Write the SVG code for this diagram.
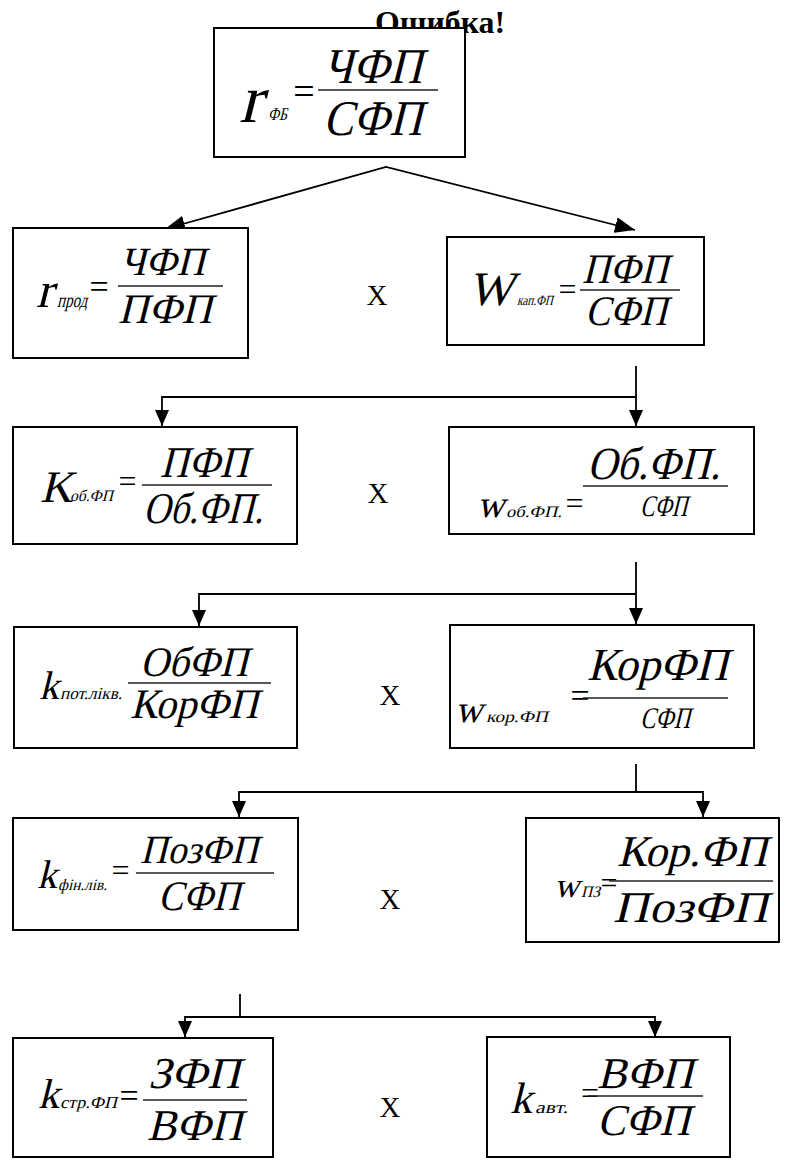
<svg xmlns="http://www.w3.org/2000/svg" width="791" height="1160" viewBox="0 0 791 1160">
<style>
.b{fill:#fff;stroke:#000;stroke-width:2}
.t{font-family:'Liberation Serif','Times New Roman',serif;fill:#000}
.e{font-family:'Liberation Serif','Times New Roman',serif;fill:#000}
.fl{stroke:#222;stroke-width:1.3}
.c{fill:none;stroke:#000;stroke-width:1.8}
</style>
<defs>
<marker id="ah" markerWidth="16" markerHeight="14" refX="16" refY="7" orient="auto" markerUnits="userSpaceOnUse"><path d="M0,0 L16,7 L0,14 z" fill="#000"/></marker>
<marker id="ad" markerWidth="20" markerHeight="16" refX="20" refY="8" orient="auto-start-reverse" markerUnits="userSpaceOnUse"><path d="M0,0 L20,8 L0,16 z" fill="#000"/></marker>
</defs>
<text class="e" x="375" y="33" font-size="32" font-weight="bold" textLength="130" lengthAdjust="spacingAndGlyphs">Ошибка!</text>

<g id="connectors">
<polyline class="c" points="165,229 386,167 635,230" marker-start="url(#ad)" marker-end="url(#ad)"/>
<line class="c" x1="636" y1="366" x2="636" y2="426" marker-end="url(#ah)"/>
<polyline class="c" points="636,397 162,397 162,426" marker-end="url(#ah)"/>
<line class="c" x1="636" y1="562" x2="636" y2="624" marker-end="url(#ah)"/>
<polyline class="c" points="636,594 199,594 199,626" marker-end="url(#ah)"/>
<line class="c" x1="636" y1="764" x2="636" y2="792"/>
<polyline class="c" points="636,792 239,792 239,817" marker-end="url(#ah)"/>
<polyline class="c" points="636,792 703,792 703,817" marker-end="url(#ah)"/>
<line class="c" x1="240" y1="994" x2="240" y2="1017"/>
<polyline class="c" points="240,1017 185,1017 185,1037" marker-end="url(#ah)"/>
<polyline class="c" points="240,1017 655,1017 655,1037" marker-end="url(#ah)"/>
</g>

<g id="n0">
<rect class="b" x="214" y="28" width="251" height="129"/>
<text class="t" transform="translate(239,122) skewX(-14)" font-size="68">r</text>
<text class="t" transform="translate(268,120) skewX(-14)" font-size="18" textLength="19" lengthAdjust="spacingAndGlyphs">ФБ</text>
<text class="e" x="304" y="104" font-size="38" text-anchor="middle">=</text>
<text class="t" transform="translate(323,83) skewX(-14)" font-size="50" textLength="99" lengthAdjust="spacingAndGlyphs">ЧФП</text>
<line class="fl" x1="318" y1="90" x2="438" y2="90"/>
<text class="t" transform="translate(323,135) skewX(-14)" font-size="50" textLength="99" lengthAdjust="spacingAndGlyphs">СФП</text>
</g>

<g id="n1">
<rect class="b" x="13" y="228" width="235" height="130"/>
<text class="t" transform="translate(36,307) skewX(-14)" font-size="50">r</text>
<text class="t" transform="translate(57,307) skewX(-14)" font-size="20" textLength="30" lengthAdjust="spacingAndGlyphs">прод</text>
<text class="e" x="99" y="297.5" font-size="34" text-anchor="middle">=</text>
<text class="t" transform="translate(120,275) skewX(-14)" font-size="40" textLength="85" lengthAdjust="spacingAndGlyphs">ЧФП</text>
<line class="fl" x1="118" y1="286" x2="223" y2="286"/>
<text class="t" transform="translate(118,323) skewX(-14)" font-size="42" textLength="94" lengthAdjust="spacingAndGlyphs">ПФП</text>
</g>

<g id="n2">
<rect class="b" x="447" y="237" width="257" height="108"/>
<text class="t" transform="translate(468,305) skewX(-14)" font-size="48">W</text>
<text class="t" transform="translate(517,305) skewX(-14)" font-size="14" textLength="36" lengthAdjust="spacingAndGlyphs">кап.ФП</text>
<text class="e" x="567.5" y="300" font-size="32" text-anchor="middle">=</text>
<text class="t" transform="translate(582,283) skewX(-14)" font-size="42" textLength="86" lengthAdjust="spacingAndGlyphs">ПФП</text>
<line class="fl" x1="580" y1="290" x2="680" y2="290"/>
<text class="t" transform="translate(585,325) skewX(-14)" font-size="42" textLength="82" lengthAdjust="spacingAndGlyphs">СФП</text>
</g>

<g id="n3">
<rect class="b" x="13" y="427" width="284" height="117"/>
<text class="t" transform="translate(40,502) skewX(-14)" font-size="45">K</text>
<text class="t" transform="translate(70,501) skewX(-14)" font-size="16" textLength="43" lengthAdjust="spacingAndGlyphs">об.ФП</text>
<text class="e" x="127.5" y="492" font-size="32" text-anchor="middle">=</text>
<text class="t" transform="translate(160,477) skewX(-14)" font-size="44" textLength="88" lengthAdjust="spacingAndGlyphs">ПФП</text>
<line class="fl" x1="142" y1="485" x2="272" y2="485"/>
<text class="t" transform="translate(143,523) skewX(-14)" font-size="44" textLength="120" lengthAdjust="spacingAndGlyphs">Об.ФП.</text>
</g>

<g id="n4">
<rect class="b" x="449" y="427" width="305" height="107"/>
<text class="t" transform="translate(477,517) skewX(-14)" font-size="38">w</text>
<text class="t" transform="translate(506,517) skewX(-14)" font-size="16" textLength="56" lengthAdjust="spacingAndGlyphs">об.ФП.</text>
<text class="e" x="574.5" y="514" font-size="32" text-anchor="middle">=</text>
<text class="t" transform="translate(587,479) skewX(-14)" font-size="46" textLength="133" lengthAdjust="spacingAndGlyphs">Об.ФП.</text>
<line class="fl" x1="583" y1="486" x2="728" y2="486"/>
<text class="t" transform="translate(640,516) skewX(-14)" font-size="30" textLength="47" lengthAdjust="spacingAndGlyphs">СФП</text>
</g>

<g id="n5">
<rect class="b" x="14" y="627" width="283" height="121"/>
<text class="t" transform="translate(39,699) skewX(-14)" font-size="40">k</text>
<text class="t" transform="translate(60,699) skewX(-14)" font-size="17" textLength="62" lengthAdjust="spacingAndGlyphs">пот.лікв.</text>
<text class="t" transform="translate(140,676) skewX(-14)" font-size="42" textLength="108" lengthAdjust="spacingAndGlyphs">ОбФП</text>
<line class="fl" x1="128" y1="683" x2="271" y2="683"/>
<text class="t" transform="translate(130,718) skewX(-14)" font-size="42" textLength="128" lengthAdjust="spacingAndGlyphs">КорФП</text>
</g>

<g id="n6">
<rect class="b" x="450" y="625" width="304" height="123"/>
<text class="t" transform="translate(455,722) skewX(-14)" font-size="38">w</text>
<text class="t" transform="translate(486,722) skewX(-14)" font-size="16" textLength="62" lengthAdjust="spacingAndGlyphs">кор.ФП</text>
<text class="e" x="580" y="706.5" font-size="34" text-anchor="middle">=</text>
<text class="t" transform="translate(587,680) skewX(-14)" font-size="46" textLength="141" lengthAdjust="spacingAndGlyphs">КорФП</text>
<line class="fl" x1="583" y1="698" x2="728" y2="698"/>
<text class="t" transform="translate(640,728) skewX(-14)" font-size="30" textLength="50" lengthAdjust="spacingAndGlyphs">СФП</text>
</g>

<g id="n7">
<rect class="b" x="13" y="818" width="285" height="112"/>
<text class="t" transform="translate(37,888) skewX(-14)" font-size="40">k</text>
<text class="t" transform="translate(58,890) skewX(-14)" font-size="16" textLength="49" lengthAdjust="spacingAndGlyphs">фін.лів.</text>
<text class="e" x="120.5" y="881" font-size="32" text-anchor="middle">=</text>
<text class="t" transform="translate(140,863) skewX(-14)" font-size="40" textLength="118" lengthAdjust="spacingAndGlyphs">ПозФП</text>
<line class="fl" x1="136" y1="873" x2="274" y2="873"/>
<text class="t" transform="translate(158,910) skewX(-14)" font-size="42" textLength="82" lengthAdjust="spacingAndGlyphs">СФП</text>
</g>

<g id="n8">
<rect class="b" x="526" y="818" width="253" height="124"/>
<text class="t" transform="translate(554,897) skewX(-14)" font-size="35">w</text>
<text class="t" transform="translate(581,897) skewX(-14)" font-size="16" textLength="19" lengthAdjust="spacingAndGlyphs">ПЗ</text>
<text class="e" x="609" y="893" font-size="30" text-anchor="middle">=</text>
<text class="t" transform="translate(617,866) skewX(-14)" font-size="44" textLength="150" lengthAdjust="spacingAndGlyphs">Кор.ФП</text>
<line class="fl" x1="609" y1="881" x2="773" y2="881"/>
<text class="t" transform="translate(613,922) skewX(-14)" font-size="44" textLength="155" lengthAdjust="spacingAndGlyphs">ПозФП</text>
</g>

<g id="n9">
<rect class="b" x="13" y="1038" width="260" height="119"/>
<text class="t" transform="translate(38,1108) skewX(-14)" font-size="42">k</text>
<text class="t" transform="translate(60,1108) skewX(-14)" font-size="17" textLength="57" lengthAdjust="spacingAndGlyphs">стр.ФП</text>
<text class="e" x="129" y="1106.5" font-size="34" text-anchor="middle">=</text>
<text class="t" transform="translate(148,1088) skewX(-14)" font-size="44" textLength="92" lengthAdjust="spacingAndGlyphs">ЗФП</text>
<line class="fl" x1="143" y1="1100" x2="247" y2="1100"/>
<text class="t" transform="translate(147,1140) skewX(-14)" font-size="44" textLength="95" lengthAdjust="spacingAndGlyphs">ВФП</text>
</g>

<g id="n10">
<rect class="b" x="487" y="1037" width="243" height="120"/>
<text class="t" transform="translate(510,1113) skewX(-14)" font-size="44">k</text>
<text class="t" transform="translate(535,1113) skewX(-14)" font-size="17" textLength="33" lengthAdjust="spacingAndGlyphs">авт.</text>
<text class="e" x="590" y="1104" font-size="32" text-anchor="middle">=</text>
<text class="t" transform="translate(597,1088) skewX(-14)" font-size="44" textLength="96" lengthAdjust="spacingAndGlyphs">ВФП</text>
<line class="fl" x1="588" y1="1096" x2="703" y2="1096"/>
<text class="t" transform="translate(597,1135) skewX(-14)" font-size="44" textLength="93" lengthAdjust="spacingAndGlyphs">СФП</text>
</g>

<g id="x-signs">
<text class="e" x="377" y="305" font-size="29" text-anchor="middle">X</text>
<text class="e" x="378" y="503" font-size="29" text-anchor="middle">X</text>
<text class="e" x="390" y="705" font-size="29" text-anchor="middle">X</text>
<text class="e" x="390" y="909" font-size="29" text-anchor="middle">X</text>
<text class="e" x="390" y="1117" font-size="29" text-anchor="middle">X</text>
</g>
</svg>
